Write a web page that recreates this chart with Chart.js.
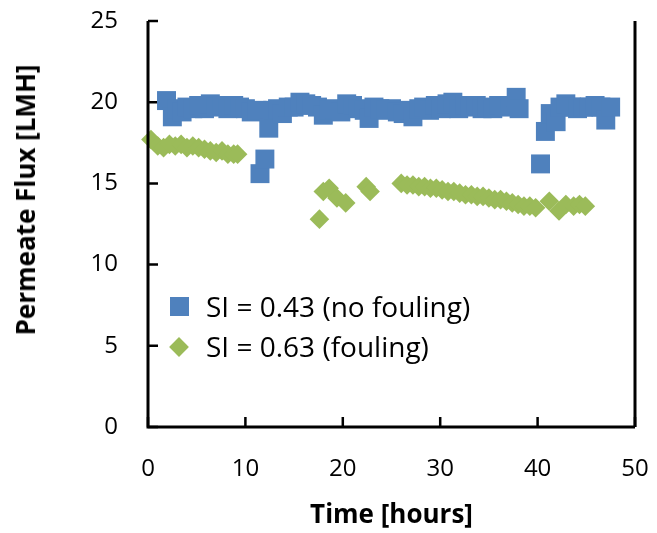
<!DOCTYPE html>
<html lang="en">
<head>
  <meta charset="UTF-8" />
  <title>Permeate flux vs time</title>
  <script src="https://cdn.jsdelivr.net/npm/chart.js"></script>
  <style>
    body { margin: 0; background: #fff; }
    #wrap { position: relative; width: 657px; height: 533px; }
    #legend {
      position: absolute; left: 0; top: 0;
      font-family: 'Open Sans', sans-serif; font-size: 28px; color: #000;
    }
    .item { position: absolute; white-space: nowrap; line-height: 32px; }
    .mark { position: absolute; }
    #ytitle {
      position: absolute; left: 25px; top: 200px;
      transform: translate(-50%, -50%) rotate(-90deg);
      font-family: 'Open Sans', sans-serif; font-weight: bold; font-size: 26px;
      white-space: nowrap; color: #000;
    }
  </style>
</head>
<body>
  <div id="wrap">
    <canvas id="chart" width="657" height="533"></canvas>
    <div id="ytitle"></div>
    <div id="legend"></div>
  </div>

  <script>
    // SI = 0.43 (no fouling)
    const blueTime = [1.9, 2.5, 3.0, 3.5, 4.0, 4.6, 5.2, 5.8, 6.4, 7.0, 7.6, 8.2, 8.8, 9.4, 10.0,
      10.6, 11.2, 11.5, 12.0, 12.4, 12.8, 13.3, 13.8, 14.4, 15.0, 15.6, 16.2, 16.8, 17.4, 18.0,
      18.6, 19.2, 19.8, 20.4, 21.0, 21.6, 22.2, 22.7, 23.2, 23.8, 24.4, 25.0, 25.6, 26.2, 26.8,
      27.2, 27.8, 28.3, 28.9, 29.5, 30.1, 30.7, 31.3, 31.9, 32.5, 33.1, 33.7, 34.3, 34.8, 35.4,
      36.0, 36.6, 37.2, 37.8, 38.1, 40.3, 40.8, 41.3, 41.9, 42.3, 42.9, 43.5, 44.1, 44.7, 45.3,
      45.9, 46.5, 47.0, 47.5];
    const blueFlux = [20.1, 19.1, 19.6, 19.4, 19.7, 19.6, 19.8, 19.6, 19.9, 19.7, 19.8, 19.6, 19.8, 19.7, 19.6,
      19.4, 19.5, 15.6, 16.5, 18.4, 19.5, 19.6, 19.3, 19.7, 19.7, 20.0, 19.9, 19.8, 19.7, 19.2,
      19.5, 19.6, 19.4, 19.9, 19.8, 19.6, 19.5, 19.0, 19.7, 19.6, 19.5, 19.6, 19.4, 19.3, 19.5,
      19.1, 19.6, 19.7, 19.5, 19.8, 19.6, 19.9, 20.0, 19.6, 19.8, 19.7, 19.8, 19.6, 19.7, 19.6,
      19.8, 19.7, 19.8, 20.3, 19.6, 16.2, 18.2, 19.3, 18.8, 19.7, 19.9, 19.7, 19.6, 19.7, 19.7,
      19.8, 19.7, 18.9, 19.7];

    // SI = 0.63 (fouling)
    const greenTime = [0.3, 1.0, 1.6, 2.2, 2.8, 3.4, 4.0, 4.6, 5.2, 5.8, 6.4, 7.0, 7.6, 8.2, 8.8, 9.2,
      17.6, 18.0, 18.6, 19.4, 20.3, 22.4, 22.8,
      26.0, 26.6, 27.2, 27.8, 28.4, 29.0, 29.6, 30.2, 30.8, 31.4, 32.0, 32.6, 33.2, 33.8, 34.4,
      35.0, 35.6, 36.2, 36.8, 37.4, 38.0, 38.6, 39.2, 39.8,
      41.2, 42.2, 42.9, 43.7, 44.3, 44.9];
    const greenFlux = [17.7, 17.3, 17.2, 17.4, 17.3, 17.4, 17.2, 17.3, 17.2, 17.1, 17.0, 16.9, 17.0, 16.8, 16.8, 16.8,
      12.8, 14.5, 14.7, 14.1, 13.8, 14.8, 14.5,
      15.0, 14.9, 14.9, 14.8, 14.8, 14.7, 14.7, 14.6, 14.5, 14.5, 14.4, 14.3, 14.3, 14.2, 14.2,
      14.1, 14.0, 14.0, 13.9, 13.8, 13.7, 13.6, 13.6, 13.5,
      13.9, 13.3, 13.7, 13.6, 13.7, 13.6];

    const xTicks = [0, 10, 20, 30, 40, 50];
    const yTicks = [0, 5, 10, 15, 20, 25];
    const seriesLabels = ['SI = 0.43 (no fouling)', 'SI = 0.63 (fouling)'];
    const xTitle = 'Time [hours]';
    const yTitle = 'Permeate Flux [LMH]';

    const blue = '#4F81BD';
    const green = '#9BBB59';
    const tickFont = { family: 'Open Sans', size: 24 };
    const titleFont = { family: 'Open Sans', size: 26, weight: 'bold' };

    // inward tick marks under the markers, axis lines over them
    const frame = {
      id: 'frame',
      beforeDatasetsDraw(chart) {
        const { ctx, chartArea: a, scales: { x, y } } = chart;
        ctx.save();
        ctx.strokeStyle = '#000';
        ctx.lineWidth = 2.5;
        ctx.beginPath();
        yTicks.forEach(v => {
          const py = y.getPixelForValue(v);
          ctx.moveTo(a.left, py); ctx.lineTo(a.left + 10, py);
        });
        xTicks.forEach(v => {
          const px = x.getPixelForValue(v);
          ctx.moveTo(px, a.bottom); ctx.lineTo(px, a.bottom - 10);
        });
        ctx.stroke();
        ctx.restore();
      },
      afterDatasetsDraw(chart) {
        const { ctx, chartArea: a } = chart;
        ctx.save();
        ctx.strokeStyle = '#000';
        ctx.lineWidth = 3;
        ctx.beginPath();
        ctx.moveTo(a.left, a.top);
        ctx.lineTo(a.left, a.bottom);
        ctx.lineTo(a.right, a.bottom);
        ctx.moveTo(a.right, a.top);
        ctx.lineTo(a.right, a.bottom);
        ctx.stroke();
        ctx.restore();
      }
    };

    const chart = new Chart(document.getElementById('chart'), {
      type: 'scatter',
      data: {
        datasets: [
          {
            label: seriesLabels[0],
            data: blueTime.map((t, i) => ({ x: t, y: blueFlux[i] })),
            pointStyle: 'rect',
            pointRadius: 13.4,
            backgroundColor: blue,
            borderWidth: 0,
            clip: false
          },
          {
            label: seriesLabels[1],
            data: greenTime.map((t, i) => ({ x: t, y: greenFlux[i] })),
            pointStyle: 'rectRot',
            pointRadius: 9.8,
            backgroundColor: green,
            borderWidth: 0,
            clip: false
          }
        ]
      },
      options: {
        responsive: false,
        animation: false,
        devicePixelRatio: 1,
        layout: { padding: { top: 21, right: 22, left: 0, bottom: 0 } },
        plugins: { legend: { display: false }, tooltip: { enabled: false } },
        scales: {
          x: {
            type: 'linear', min: 0, max: 50,
            afterBuildTicks: s => { s.ticks = xTicks.map(v => ({ value: v })); },
            afterFit: s => { s.height = 106; s.paddingLeft = 0; s.paddingRight = 0; },
            grid: { display: false, drawTicks: false },
            border: { display: false },
            ticks: { font: tickFont, color: '#000', padding: 28, maxRotation: 0 },
            title: { display: true, text: xTitle, font: titleFont, color: '#000', padding: { top: 0, bottom: 2 } }
          },
          y: {
            type: 'linear', min: 0, max: 25,
            afterBuildTicks: s => { s.ticks = yTicks.map(v => ({ value: v })); },
            afterFit: s => { s.width = 148; s.paddingTop = 0; s.paddingBottom = 0; },
            grid: { display: false, drawTicks: false },
            border: { display: false },
            ticks: { font: tickFont, color: '#000', padding: 30 },
            title: { display: false }
          }
        }
      },
      plugins: [frame]
    });

    document.getElementById('ytitle').textContent = yTitle;

    // legend inside the plot, left side
    const legend = document.getElementById('legend');
    const rows = [
      { top: 290, mark: `left:170px;top:297px;width:19px;height:19px;background:${blue};` },
      { top: 330, mark: `left:172px;top:340px;width:14px;height:14px;background:${green};transform:rotate(45deg);` }
    ];
    rows.forEach((r, i) => {
      const m = document.createElement('div');
      m.className = 'mark';
      m.style.cssText = r.mark;
      legend.appendChild(m);
      const t = document.createElement('div');
      t.className = 'item';
      t.style.left = '206px';
      t.style.top = r.top + 'px';
      t.textContent = seriesLabels[i];
      legend.appendChild(t);
    });
  </script>
</body>
</html>
